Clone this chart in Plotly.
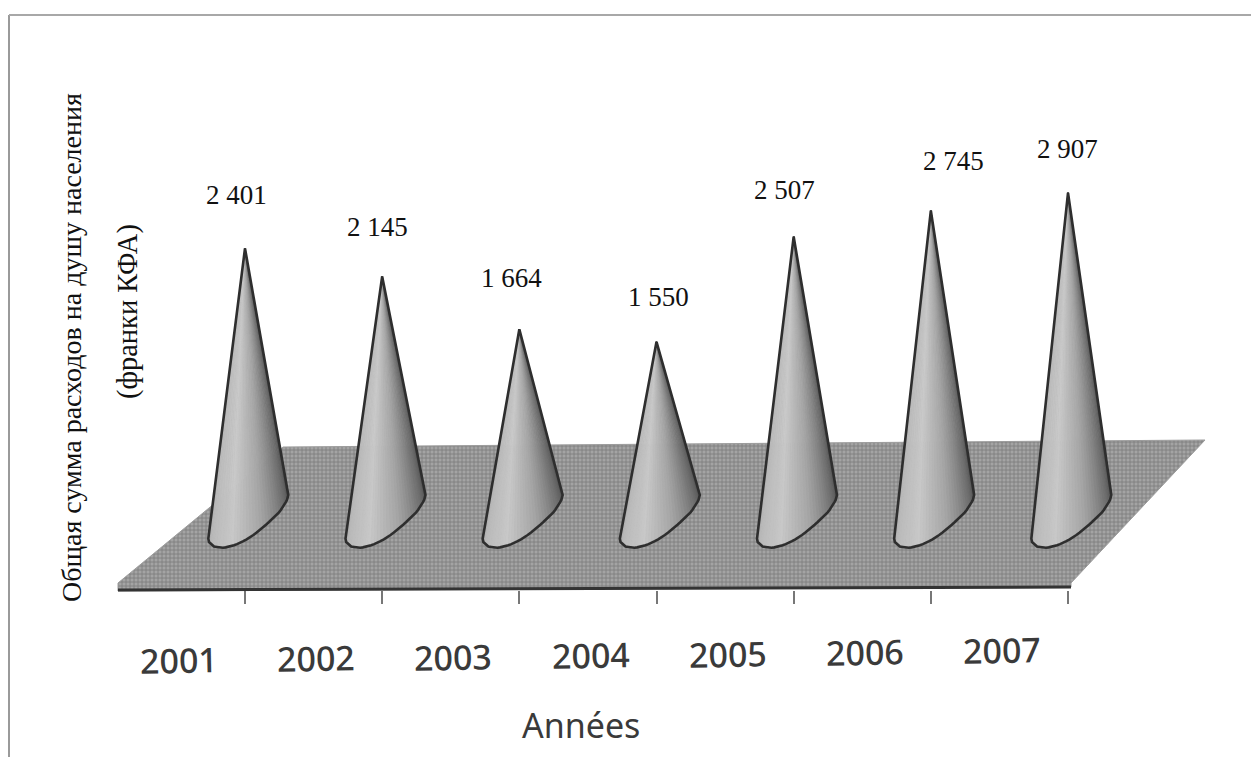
import plotly.graph_objects as go

years = [2001, 2002, 2003, 2004, 2005, 2006, 2007]
values = [2401, 2145, 1664, 1550, 2507, 2745, 2907]
value_labels = ["2 401", "2 145", "1 664", "1 550", "2 507", "2 745", "2 907"]
y_title = "Общая сумма расходов на душу населения"
y_subtitle = "(франки КФА)"
x_title = "Années"

W, H = 1259, 757
PAGE = 8  # default page margin of the html body
PX_PER_YEAR = 137.17
PX_PER_VALUE = 0.1098
X0_PX, Y0_PX = 245, 512
x_range = [years[0] + (PAGE - X0_PX) / PX_PER_YEAR, years[0] + (PAGE + W - X0_PX) / PX_PER_YEAR]
y_range = [(Y0_PX - PAGE - H) / PX_PER_VALUE, (Y0_PX - PAGE) / PX_PER_VALUE]


def dx(px):
    return px / PX_PER_YEAR


def dy(px):
    return -px / PX_PER_VALUE


def px_x(px):
    return years[0] + (px - X0_PX) / PX_PER_YEAR


def px_y(py):
    return (Y0_PX - py) / PX_PER_VALUE


def fx(px):
    return (px - PAGE) / W


def fy(py):
    return 1 - (py - PAGE) / H


# outline of the cone foot (slanted ellipse), in pixel offsets from the cone axis
FOOT = [(-37, 25), (-36, 30), (-31, 34.5), (-22, 35.8), (-14, 34.5), (-5, 31), (5, 25.5), (15, 18),
        (24, 10), (32, 3), (38, -5), (42, -12), (43.3, -17)]
STOPS = [(0.0, 150), (0.12, 185), (0.35, 200), (0.6, 165), (0.8, 120), (1.0, 80)]


def grey(t):
    for (a, ca), (b, cb) in zip(STOPS, STOPS[1:]):
        if t <= b:
            v = round(ca + (cb - ca) * (t - a) / (b - a))
            return f"rgb({v},{v},{v})"
    return "rgb(80,80,80)"


def foot_points(n=36):
    out = []
    for i in range(n + 1):
        p = i * (len(FOOT) - 1) / n
        k = min(int(p), len(FOOT) - 2)
        f = p - k
        out.append((FOOT[k][0] + (FOOT[k + 1][0] - FOOT[k][0]) * f,
                    FOOT[k][1] + (FOOT[k + 1][1] - FOOT[k][1]) * f))
    return out


fig = go.Figure()

# floor of the 3D scene
floor = [(118, 583), (283, 447), (1205, 440), (1071, 583), (1071, 587), (118, 591)]
fig.add_trace(go.Scatter(
    x=[px_x(p[0]) for p in floor] + [px_x(floor[0][0])],
    y=[px_y(p[1]) for p in floor] + [px_y(floor[0][1])],
    mode="lines", fill="toself", line=dict(color="#9c9c9c", width=1),
    fillcolor="#8e8e8e",
    fillpattern=dict(shape="+", size=4, solidity=0.35, fgcolor="#787878", bgcolor="#a4a4a4", fillmode="replace"),
    hoverinfo="skip", showlegend=False))

# cones
foot = foot_points()
for yr, val in zip(years, values):
    for i in range(len(foot) - 1):
        t = (i + 0.5) / (len(foot) - 1)
        c = grey(t)
        fig.add_trace(go.Scatter(
            x=[yr, yr + dx(foot[i][0]), yr + dx(foot[i + 1][0]), yr],
            y=[val, dy(foot[i][1]), dy(foot[i + 1][1]), val],
            mode="lines", fill="toself", fillcolor=c, line=dict(color=c, width=0.8),
            hoverinfo="skip", showlegend=False))
    fig.add_trace(go.Scatter(
        x=[yr] + [yr + dx(p[0]) for p in foot] + [yr],
        y=[val] + [dy(p[1]) for p in foot] + [val],
        mode="lines", line=dict(color="#2e2e2e", width=2.6),
        hoverinfo="skip", showlegend=False))

# value labels
LABEL_DX = [-9, -5, -8, 2, -9, 23, -1]
LABEL_DY = [53, 49, 51, 45, 47, 50, 44]
annotations = [dict(x=yr, y=val, text=lab, showarrow=False, xref="x", yref="y",
                    xanchor="center", yanchor="middle",
                    xshift=sx, yshift=sy, font=dict(family="Liberation Serif", size=27, color="#111"))
               for yr, val, lab, sx, sy in zip(years, values, value_labels, LABEL_DX, LABEL_DY)]

# year labels (the scanned page is slightly tilted)
for i, yr in enumerate(years):
    annotations.append(dict(x=yr, xref="x", y=fy(660 - i * 1.6), yref="paper", text=str(yr),
                            xanchor="center", yanchor="middle",
                            showarrow=False, xshift=-66, textangle=-1.2,
                            font=dict(family="Noto Sans", size=34, color="#3a3a3a", weight=500)))

annotations += [
    dict(x=fx(72), y=fy(348), xref="paper", yref="paper", text=y_title, textangle=-90, showarrow=False,
         xanchor="center", yanchor="middle",
         font=dict(family="Liberation Serif", size=28, color="#111")),
    dict(x=fx(128), y=fy(312), xref="paper", yref="paper", text=y_subtitle, textangle=-90, showarrow=False,
         xanchor="center", yanchor="middle",
         font=dict(family="Liberation Serif", size=28.5, color="#111")),
    dict(x=fx(581), y=fy(725), xref="paper", yref="paper", text=x_title, showarrow=False,
         xanchor="center", yanchor="middle",
         font=dict(family="Noto Sans", size=34, color="#3a3a3a")),
]

shapes = [
    dict(type="line", xref="paper", yref="paper", x0=fx(118), x1=fx(1071), y0=fy(590), y1=fy(587),
         line=dict(color="#333", width=3)),
    dict(type="line", xref="paper", yref="paper", x0=fx(9), x1=fx(9), y0=0, y1=fy(15),
         line=dict(color="#9a9a9a", width=2)),
    dict(type="line", xref="paper", yref="paper", x0=fx(9), x1=1, y0=fy(15), y1=fy(15),
         line=dict(color="#a8a8a8", width=2)),
]

fig.update_layout(
    width=W, height=H, autosize=False,
    margin=dict(l=0, r=0, t=0, b=0),
    paper_bgcolor="#ffffff", plot_bgcolor="#ffffff",
    showlegend=False, annotations=annotations, shapes=shapes,
    xaxis=dict(range=x_range, tickmode="array", tickvals=years, ticks="outside", ticklen=13,
               tickwidth=1.5, tickcolor="#777", showticklabels=False, showgrid=False, zeroline=False,
               showline=False, anchor="free", position=fy(590)),
    yaxis=dict(range=y_range, visible=False),
)
fig.write_html("out.html")
